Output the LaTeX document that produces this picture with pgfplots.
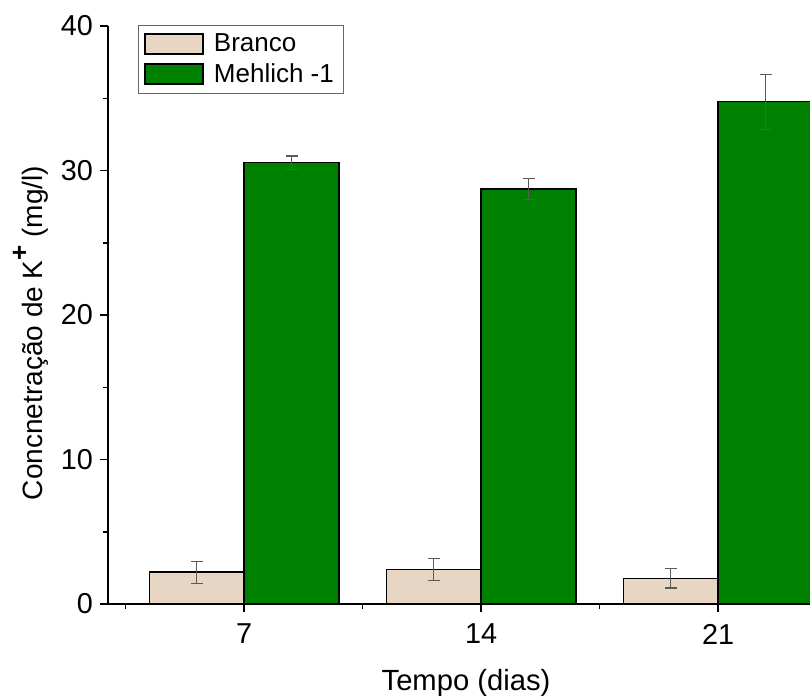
\documentclass[border=0pt]{standalone}
\usepackage{fontspec}
\setmainfont{Liberation Sans}
\usepackage{pgfplots}
\usepackage{pgfplotstable}
\pgfplotsset{compat=1.18}
\definecolor{branco}{RGB}{232,214,196}
\definecolor{mgreen}{RGB}{0,128,0}
\definecolor{errc}{RGB}{90,90,90}
\pgfplotstableread{
x y err
7 2.2 0.76
14 2.4 0.76
21 1.78 0.67
}\branco
\pgfplotstableread{
x y err
7 30.54 0.47
14 28.72 0.75
21 34.76 1.9
}\mehlich
\begin{document}
\begin{tikzpicture}
\begin{axis}[
  at={(0,0)}, anchor=south west,
  scale only axis, width=351pt, height=289pt,
  xmin=2.98, xmax=23.71, ymin=0, ymax=40,
  axis x line=bottom, axis y line=left,
  axis line style={-, line width=0.75pt},
  xtick={7,14,21}, minor xtick={3.5,10.5,17.5},
  ytick={0,10,20,30,40}, minor ytick={5,15,25,35},
  tick align=outside, major tick length=4pt, minor tick length=2.5pt,
  every tick/.style={line width=0.75pt, black},
  /pgf/number format/assume math mode=true,
  tick label style={font=\fontsize{14.4}{17}\selectfont},
  xticklabel style={yshift=-2.5pt},
  xlabel={Tempo (dias)},
  ylabel={Concnetração de K\raisebox{1.0ex}{\fontsize{13}{13}\selectfont\textbf{+}}\ (mg/l)},
  xlabel style={font=\fontsize{14.6}{17}\selectfont, at={(axis description cs:0.51,-0.1367)}, anchor=center},
  ylabel style={font=\fontsize{14}{17}\selectfont, at={(axis description cs:-0.110,0.469)}, anchor=center},
  ybar, bar width=2.8,
  legend style={at={(axis description cs:0.0427,1.002)}, anchor=north west,
    draw=black!60, line width=0.5pt, font=\fontsize{13}{16}\selectfont,
    inner xsep=3pt, inner ysep=2pt, row sep=0.5pt,
    /tikz/every odd column/.append style={column sep=3pt}},
  legend cell align=left,
]
\addplot[fill=branco, draw=black, line width=0.75pt, bar shift=-1.4,
  legend image code/.code={\draw[fill=branco, draw=black, line width=0.75pt] (0pt,-5pt) rectangle (29pt,5pt);},
  error bars/.cd, y dir=both, y explicit,
  error bar style={draw=errc, line width=0.6pt},
  error mark options={rotate=90, mark size=3pt, draw=errc, line width=0.6pt}]
  table[x=x, y=y, y error=err] {\branco};
\addlegendentry{Branco}
\addplot[fill=mgreen, draw=black, line width=0.75pt, bar shift=1.4,
  legend image code/.code={\draw[fill=mgreen, draw=black, line width=0.75pt] (0pt,-5pt) rectangle (29pt,5pt);},
  error bars/.cd, y dir=both, y explicit,
  error bar style={draw=errc, line width=0.6pt},
  error mark options={rotate=90, mark size=3pt, draw=errc, line width=0.6pt}]
  table[x=x, y=y, y error=err] {\mehlich};
\addlegendentry{Mehlich -1}
\end{axis}
\pgfresetboundingbox
\useasboundingbox (-54pt,-47pt) rectangle (351pt,302pt);
\end{tikzpicture}
\end{document}
